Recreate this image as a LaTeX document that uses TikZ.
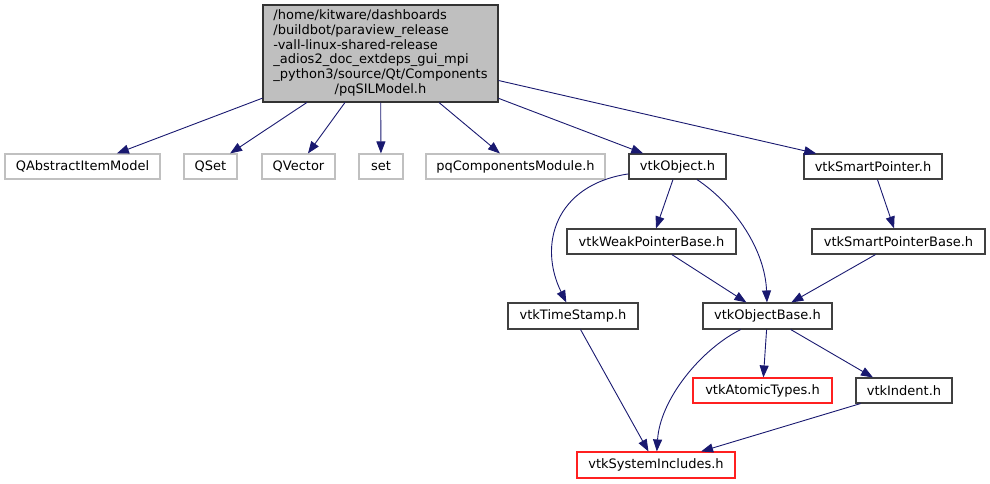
\documentclass[tikz,border=0pt]{standalone}
\usepackage{fontspec}
\setmainfont{DejaVu Sans}
\usepackage{xcolor}
\usetikzlibrary{arrows.meta}

\definecolor{edgeblue}{HTML}{191970}
\definecolor{maingray}{HTML}{BFBFBF}
\definecolor{extgray}{HTML}{C0C0C0}
\definecolor{missred}{HTML}{FF2020}

\begin{document}
\begin{tikzpicture}[
  x=1pt, y=-1pt,
  font=\fontsize{13}{14.7}\selectfont,
  filebox/.style={rectangle, draw=black!75, line width=1.1pt, inner sep=0pt,
                  minimum height=25pt, align=center},
  extbox/.style={filebox, draw=extgray},
  missbox/.style={filebox, draw=missred},
  mainbox/.style={filebox, fill=maingray, draw=black!80},
  dep/.style={-{Triangle[length=12pt, width=9pt, fill=edgeblue]}, draw=edgeblue,
              line width=0.9pt}
]
\useasboundingbox (0,0) rectangle (990,484);

% the file itself
\node[mainbox, minimum width=235pt, minimum height=97pt] (main) at (380.5,53.5)
  {\begin{tabular}{@{}l@{}}
   /home/kitware/dashboards\\
   /buildbot/paraview\_release\\
   -vall-linux-shared-release\\
   \_adios2\_doc\_extdeps\_gui\_mpi\\
   \_python3/source/Qt/Components\\
   \multicolumn{1}{@{}c@{}}{/pqSILModel.h}
   \end{tabular}};

% direct includes
\node[extbox, minimum width=155pt] (qaim) at (82.5,166.5) {QAbstractItemModel};
\node[extbox, minimum width=53pt] (qset) at (210.5,166.5) {QSet};
\node[extbox, minimum width=73pt] (qvec) at (298.5,166.5) {QVector};
\node[extbox, minimum width=44pt] (stdset) at (381,166.5) {set};
\node[extbox, minimum width=179pt] (pqmod) at (515.5,166.5) {pqComponentsModule.h};
\node[filebox, minimum width=97pt] (vobj) at (677.5,166.5) {vtkObject.h};
\node[filebox, minimum width=138pt] (vsp) at (873,166.5) {vtkSmartPointer.h};

% vtk headers
\node[filebox, minimum width=169pt] (vwpb) at (651.5,241.5) {vtkWeakPointerBase.h};
\node[filebox, minimum width=173pt] (vspb) at (898.5,241.5) {vtkSmartPointerBase.h};
\node[filebox, minimum width=130pt, minimum height=26pt] (vts) at (573,316) {vtkTimeStamp.h};
\node[filebox, minimum width=129pt, minimum height=26pt] (vob) at (767.5,316) {vtkObjectBase.h};
\node[missbox, minimum width=139pt] (vat) at (762.5,390.5) {vtkAtomicTypes.h};
\node[filebox, minimum width=96pt] (vind) at (904,390.5) {vtkIndent.h};
\node[missbox, minimum width=158pt, minimum height=26pt] (vsys) at (656,465) {vtkSystemIncludes.h};

\draw[dep] (main) -- (qaim);
\draw[dep] (main) -- (qset);
\draw[dep] (main) -- (qvec);
\draw[dep] (main) -- (stdset);
\draw[dep] (main) -- (pqmod);
\draw[dep] (main) -- (vobj);
\draw[dep] (main) -- (vsp);
\draw[dep] (vobj) -- (vwpb);
\draw[dep] (vobj) .. controls (555,185) and (538,245) .. (vts);
\draw[dep] (vobj) .. controls (735,205) and (765,250) .. (vob);
\draw[dep] (vsp) -- (vspb);
\draw[dep] (vwpb) -- (vob);
\draw[dep] (vspb) -- (vob);
\draw[dep] (vts) -- (vsys);
\draw[dep] (vob) .. controls (700,350) and (660,400) .. (vsys);
\draw[dep] (vob) -- (vat);
\draw[dep] (vob) -- ([xshift=-31pt]vind.north);
\draw[dep] (vind) -- (vsys);
\end{tikzpicture}
\end{document}
